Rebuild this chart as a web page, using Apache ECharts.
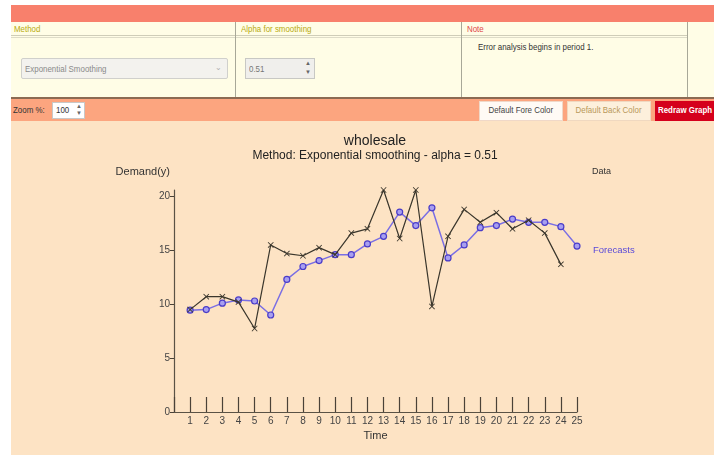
<!DOCTYPE html>
<html><head><meta charset="utf-8">
<script src="https://cdn.jsdelivr.net/npm/echarts@6/dist/echarts.min.js"></script>
<style>
html,body{margin:0;padding:0;width:714px;height:456px;background:#fff;overflow:hidden;font-family:'Liberation Sans Narrow','Liberation Sans',Arial,sans-serif;}
.abs{position:absolute;box-sizing:border-box;}
.n{transform:scaleX(0.88);transform-origin:0 0;white-space:nowrap;}
.c{display:flex;justify-content:center;white-space:nowrap;}
.c span{display:inline-block;transform:scaleX(0.88);}
#chart{position:absolute;left:11px;top:121px;width:703px;height:334px;}
</style></head><body>
<div class="abs" style="left:11px;top:5px;width:703px;height:17px;background:#f8806c;"></div>
<div class="abs" style="left:11px;top:22px;width:703px;height:75px;background:#fffde6;"></div>
<div class="abs" style="left:11px;top:35px;width:676px;height:3px;border-top:1px solid #cfcdb8;border-bottom:1px solid #dedcc8;"></div>
<div class="abs" style="left:235px;top:22px;width:1px;height:75px;background:#a8a898;"></div>
<div class="abs" style="left:461px;top:22px;width:1px;height:75px;background:#a8a898;"></div>
<div class="abs" style="left:687px;top:22px;width:1px;height:75px;background:#a8a898;"></div>
<div class="abs n" style="left:14px;top:24px;font-size:9px;color:#b8aa10;">Method</div>
<div class="abs n" style="left:241px;top:24px;font-size:9px;color:#b8aa10;">Alpha for smoothing</div>
<div class="abs n" style="left:467px;top:24px;font-size:9px;color:#e0484a;">Note</div>
<div class="abs" style="left:21px;top:58px;width:207px;height:21px;background:#f3f2ee;border:1px solid #d0d0cc;border-radius:2px;"></div>
<div class="abs n" style="left:25px;top:64px;font-size:9px;color:#8a8a8a;">Exponential Smoothing</div>
<div class="abs" style="left:215px;top:63px;font-size:8px;color:#b0b0b0;">&#8964;</div>
<div class="abs" style="left:245px;top:58px;width:70px;height:21px;background:#f0efec;border:1px solid #c8c8c4;"></div>
<div class="abs n" style="left:249px;top:64px;font-size:9px;color:#777;">0.51</div>
<div class="abs" style="left:305px;top:59px;font-size:6px;color:#666;line-height:9px;">&#9650;<br>&#9660;</div>
<div class="abs n" style="left:478px;top:42px;font-size:9px;color:#333;">Error analysis begins in period 1.</div>
<div class="abs" style="left:11px;top:97px;width:703px;height:2px;background:#8c6a52;"></div>
<div class="abs" style="left:11px;top:99px;width:703px;height:22px;background:#fca57f;"></div>
<div class="abs n" style="left:13px;top:105px;font-size:9px;color:#333;">Zoom %:</div>
<div class="abs" style="left:52px;top:102px;width:33px;height:17px;background:#fff;border:1px solid #c8c8c8;"></div>
<div class="abs n" style="left:56px;top:105px;font-size:9px;color:#333;">100</div>
<div class="abs" style="left:76px;top:103px;font-size:6px;color:#666;line-height:7px;">&#9650;<br>&#9660;</div>
<div class="abs" style="left:479px;top:101px;width:84px;height:20px;background:#fffaf5;border:1px solid #f0d8c8;"></div>
<div class="abs c" style="left:479px;top:105px;width:84px;font-size:9px;color:#444;"><span>Default Fore Color</span></div>
<div class="abs" style="left:567px;top:101px;width:84px;height:20px;background:#fdf0dc;border:1px solid #f0d8c0;"></div>
<div class="abs c" style="left:567px;top:105px;width:84px;font-size:9px;color:#b8985a;"><span>Default Back Color</span></div>
<div class="abs" style="left:655px;top:101px;width:70px;height:20px;background:#d5001c;"></div>
<div class="abs n" style="left:658px;top:105px;font-size:9px;color:#fff;font-weight:bold;">Redraw Graph</div>
<div id="chart"></div>
<script>
const periods = [1,2,3,4,5,6,7,8,9,10,11,12,13,14,15,16,17,18,19,20,21,22,23,24,25];
const xTickLabels = ['1','2','3','4','5','6','7','8','9','10','11','12','13','14','15','16','17','18','19','20','21','22','23','24','25'];
const demand = [9.5,10.7,10.7,10.2,7.75,15.5,14.7,14.5,15.25,14.6,16.6,17.0,20.6,16.1,20.6,9.8,16.3,18.8,17.6,18.5,17.0,17.8,16.6,13.7];
const forecasts = [9.45,9.5,10.1,10.4,10.3,9.0,12.3,13.5,14.05,14.6,14.6,15.6,16.3,18.55,17.3,18.95,14.3,15.5,17.1,17.3,17.9,17.6,17.6,17.2,15.4];
const yTicks = [0,5,10,15,20];

const chart = echarts.init(document.getElementById('chart'), null, {renderer:'canvas'});
const font = "'Liberation Sans', Arial, sans-serif";
const crossPath = 'path://M0,1L1,0L5,4L9,0L10,1L6,5L10,9L9,10L5,6L1,10L0,9L4,5Z';
chart.setOption({
  backgroundColor:'#fde3c4',
  animation:false,
  textStyle:{fontFamily:font},
  title:{
    text:'wholesale',
    subtext:'Method: Exponential smoothing - alpha = 0.51',
    left:359, top:8, textAlign:'center', itemGap:2,
    textStyle:{fontSize:14,fontWeight:'normal',color:'#222',fontFamily:font},
    subtextStyle:{fontSize:12,color:'#222',fontFamily:font}
  },
  grid:{left:163,top:69,right:137,bottom:43,containLabel:false},
  xAxis:{
    type:'value', min:0, max:25, interval:1,
    name:'Time', nameLocation:'middle', nameGap:18,
    nameTextStyle:{fontSize:11,color:'#333'},
    axisLine:{lineStyle:{color:'#5a5245',width:1.2}},
    axisTick:{inside:true,length:15,lineStyle:{color:'#4a4238',width:1.2}},
    axisLabel:{fontSize:10,color:'#444',margin:4,formatter:function(v){return v>=1?xTickLabels[v-1]:'';}},
    splitLine:{show:false}
  },
  yAxis:{
    type:'value', min:0, max:20.6, interval:5,
    name:'Demand(y)', nameLocation:'end', nameGap:13,
    nameTextStyle:{fontSize:11,color:'#333',align:'right',padding:[0,4,0,0]},
    axisLine:{show:true,lineStyle:{color:'#5a5245',width:1.2}},
    axisTick:{show:true,length:4,lineStyle:{color:'#4a4238'}},
    axisLabel:{fontSize:10,color:'#444',margin:4,showMaxLabel:false,formatter:function(v){return yTicks.indexOf(v)>=0?String(v):'';}},
    splitLine:{show:false}
  },
  graphic:[
    {type:'text',left:581,top:46,style:{text:'Data',fontSize:9,fill:'#333',fontFamily:font}},
    {type:'text',left:582,top:124,style:{text:'Forecasts',fontSize:9.5,fill:'#5a4ad8',fontFamily:font}}
  ],
  series:[
    {
      name:'Data', type:'line',
      data: demand.map((v,i)=>[periods[i],v]),
      symbol:crossPath, symbolSize:6,
      lineStyle:{color:'#3a362c',width:1.2},
      itemStyle:{color:'#3a362c'},
      z:3
    },
    {
      name:'Forecasts', type:'line',
      data: forecasts.map((v,i)=>[periods[i],v]),
      symbol:'circle', symbolSize:6,
      lineStyle:{color:'#7a6ee4',width:1.5},
      itemStyle:{color:'#a89ff0',borderColor:'#4a3cc8',borderWidth:1.2},
      z:2
    }
  ]
});
</script>
</body></html>
